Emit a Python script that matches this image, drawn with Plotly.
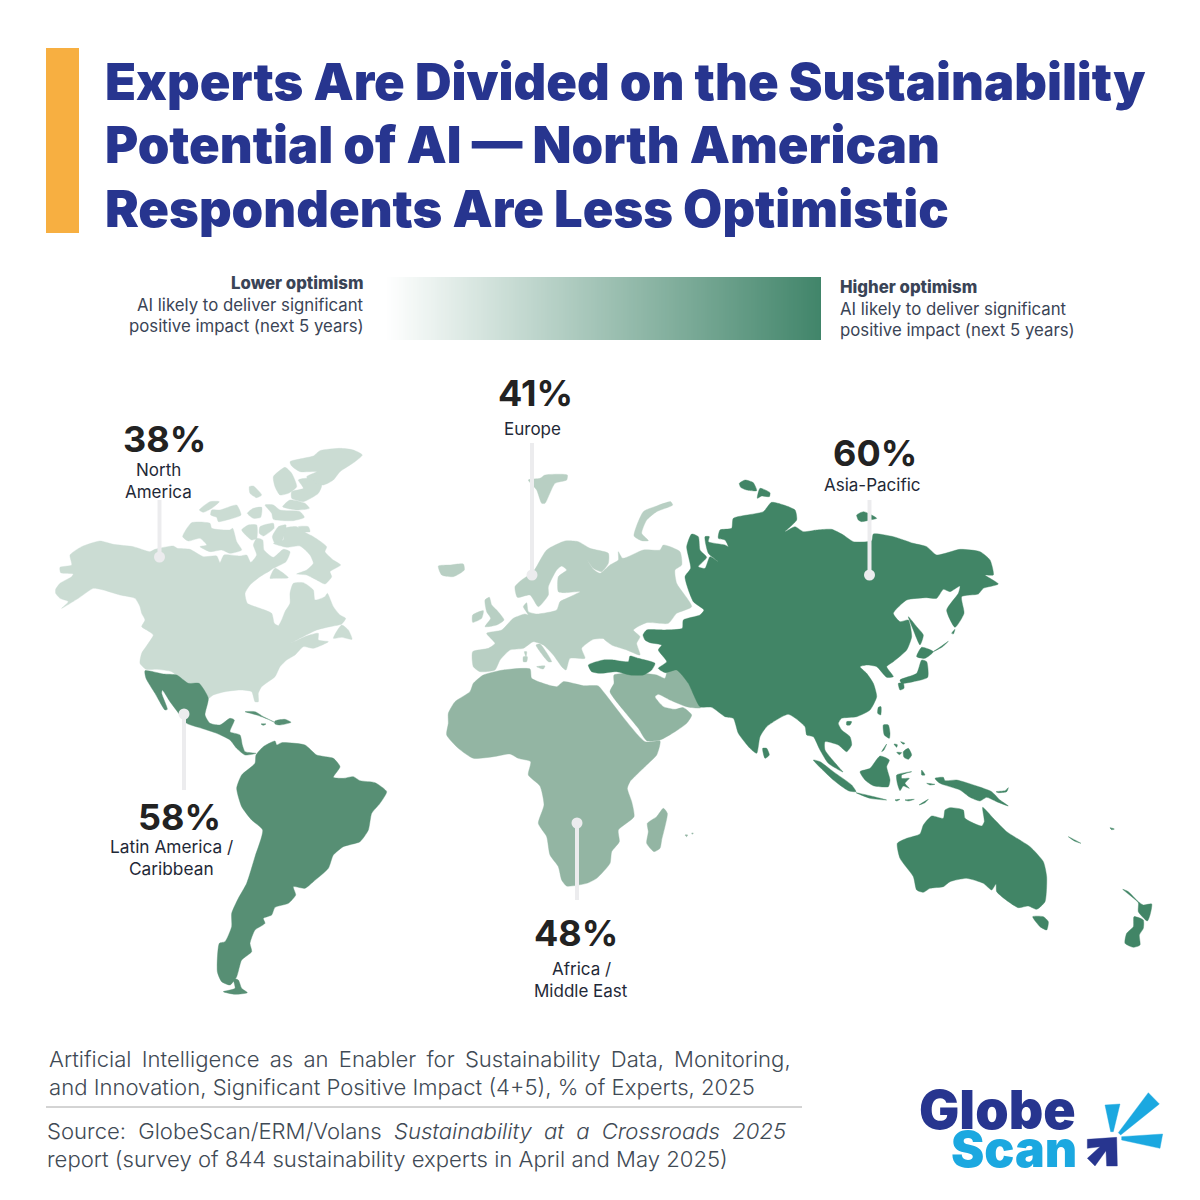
import plotly.graph_objects as go

# ---------- data ----------
regions = ["North America", "Europe", "Africa / Middle East", "Latin America / Caribbean", "Asia-Pacific"]
optimism = [38, 41, 48, 58, 60]
region_fill = ["#cbdcd3", "#b8cfc3", "#93b5a3", "#578f74", "#418566"]
title_lines = ["Experts Are Divided on the Sustainability",
               "Potential of AI \u2014 North American",
               "Respondents Are Less Optimistic"]

# Outlines: (crop left, crop top), 3x crop pixels
NA_CROP = (40, 430)
na_main = [(47,478),(60,460),(95,440),(100,432),(62,428),(60,412),(95,405),(90,375),(125,350),(180,333),(220,343),(280,350),(330,365),(345,358),(400,348),(412,355),(450,358),(490,380),(530,378),(540,398),(552,375),(600,378),(620,375),(632,397),(650,375),(640,345),(650,325),(668,330),(672,360),(700,382),(730,358),(750,365),(738,395),(700,415),(690,422),(660,440),(630,465),(615,490),(622,520),(660,535),(695,550),(703,580),(715,587),(725,570),(735,545),(750,520),(750,490),(760,460),(790,458),(820,480),(825,510),(855,500),(862,490),(880,530),(900,555),(917,565),(905,582),(870,590),(830,600),(752,640),(800,618),(835,610),(835,630),(865,635),(820,655),(790,650),(765,675),(740,690),(720,710),(705,740),(665,770),(655,790),(655,815),(645,815),(635,785),(600,780),(555,785),(520,795),(505,805),(490,785),(480,770),(445,765),(420,745),(395,725),(350,718),(318,718),(300,700),(305,670),(325,640),(340,615),(320,600),(305,590),(315,570),(305,550),(300,530),(285,505),(240,495),(190,480),(160,475),(115,505),(65,535),(85,515),(60,505),(47,490)]
na_islands = [
 [(750,95),(790,85),(820,78),(840,62),(900,55),(940,60),(967,75),(945,95),(900,125),(880,150),(850,165),(810,155),(800,140),(830,125),(780,125),(755,108)],
 [(700,140),(735,112),(755,130),(770,170),(745,190),(720,195),(705,170)],
 [(775,150),(800,145),(845,165),(835,190),(790,215),(755,205),(755,185),(790,175)],
 [(628,170),(640,168),(665,195),(650,203),(630,190)],
 [(728,230),(750,210),(795,220),(808,235),(770,240)],
 [(675,225),(700,225),(720,240),(780,245),(793,262),(760,272),(700,268),(695,250)],
 [(478,240),(510,215),(538,215),(515,235),(490,247)],
 [(515,240),(540,240),(575,228),(590,225),(603,255),(560,270),(535,275),(530,262),(512,255)],
 [(622,250),(640,235),(665,232),(662,262),(640,265)],
 [(428,320),(455,278),(510,280),(515,295),(570,300),(578,295),(590,335),(605,360),(570,370),(545,360),(510,365),(480,350),(500,345),(480,325),(445,333)],
 [(605,300),(625,285),(650,285),(650,325),(635,330)],
 [(660,290),(700,280),(702,295),(670,318),(658,310)],
 [(697,320),(715,290),(738,285),(725,335),(705,340)],
 [(700,340),(730,330),(735,295),(770,290),(800,310),(820,320),(860,350),(855,365),(880,390),(902,405),(870,425),(875,440),(855,462),(830,450),(800,435),(770,432),(800,420),(820,400),(810,375),(780,348),(740,352)],
 [(775,290),(805,290),(810,305),(790,305)],
 [(690,445),(705,415),(745,443),(705,445)],
 [(880,625),(905,585),(925,600),(936,628),(905,622)],
]

LA_CROP = (130, 660)
la_central = [(45,32),(100,42),(140,45),(175,70),(207,70),(235,115),(225,165),(240,190),(270,195),(300,175),(313,180),(300,215),(330,225),(337,255),(345,275),(378,280),(345,285),(320,265),(300,240),(260,220),(215,205),(170,190),(150,165),(120,125),(97,90),(95,100),(112,148),(105,150),(75,100),(48,55)]
la_south = [(378,285),(400,260),(435,243),(440,255),(455,248),(525,255),(560,285),(610,295),(630,320),(610,352),(640,355),(670,350),(690,362),(735,368),(770,395),(750,430),(725,460),(715,510),(690,545),(640,560),(610,585),(595,625),(550,665),(525,685),(490,680),(497,705),(475,730),(435,742),(425,765),(400,775),(405,790),(375,810),(360,850),(365,875),(335,900),(320,950),(300,975),(275,965),(262,935),(268,850),(285,845),(305,800),(305,760),(325,715),(350,670),(375,590),(398,510),(365,480),(335,440),(320,385),(335,345),(375,310)]
la_islands = [
 [(280,995),(315,985),(310,955),(325,960),(335,985),(352,998),(315,1003)],
 [(345,155),(375,155),(400,170),(440,190),(415,178),(380,165)],
 [(435,183),(465,178),(483,187),(450,195),(435,192)],
 [(393,192),(408,192),(400,196)],
]

EU_CROP = (430, 470)
eu_main = [(128,545),(175,535),(195,520),(170,490),(215,480),(250,445),(285,432),(295,435),(280,410),(290,398),(295,425),(320,432),(380,420),(390,395),(410,385),(450,365),(405,368),(385,365),(385,320),(410,300),(395,288),(380,300),(355,350),(355,375),(325,410),(300,375),(262,382),(255,350),(275,330),(310,305),(350,240),(405,213),(445,215),(480,235),(535,250),(535,280),(515,305),(490,295),(472,270),(490,298),(510,310),(540,285),(565,270),(565,245),(578,265),(640,240),(690,240),(700,225),(750,245),(755,285),(735,300),(740,340),(785,410),(740,430),(715,460),(650,458),(610,480),(630,500),(620,520),(630,555),(590,540),(545,525),(520,505),(540,505),(490,508),(455,535),(465,565),(420,565),(408,600),(395,590),(370,555),(340,525),(310,515),(280,535),(240,540),(210,570),(195,600),(150,605),(130,590)]
eu_islands = [
 [(318,525),(330,522),(365,575),(355,575)],
 [(25,288),(60,285),(100,282),(103,300),(70,320),(35,315)],
 [(165,390),(178,382),(185,405),(200,420),(222,450),(200,465),(165,470),(182,445),(170,425)],
 [(128,435),(160,422),(155,445),(128,457)],
 [(295,30),(330,25),(345,15),(412,15),(410,30),(375,40),(345,100),(335,100),(320,60)],
 [(612,198),(640,125),(680,108),(722,95),(728,105),(680,125),(650,150),(635,190),(655,212),(635,212)],
 [(320,590),(345,588),(340,597)],
 [(283,545),(290,545),(288,560)],
 [(280,560),(292,560),(290,575),(280,575)],
]

AF_CROP = (430, 660)
af_main = [(55,160),(75,125),(120,95),(130,70),(160,45),(220,30),(300,27),(305,55),(380,80),(400,65),(460,77),(505,78),(520,95),(645,245),(690,243),(680,285),(650,315),(600,365),(592,385),(605,425),(612,470),(565,510),(568,545),(545,575),(540,610),(500,655),(470,670),(410,678),(395,660),(385,620),(360,585),(350,530),(325,490),(342,435),(330,378),(295,345),(302,305),(265,295),(240,282),(190,290),(130,295),(85,265),(50,225),(55,190)]
af_mideast = [(552,45),(590,40),(640,40),(680,45),(705,55),(715,25),(750,30),(790,90),(812,143),(770,140),(720,120),(685,103),(675,110),(700,140),(735,148),(760,143),(785,165),(770,190),(735,215),(690,240),(650,242),(625,205),(580,150),(540,95),(552,70)]
af_islands = [[(652,490),(680,470),(700,445),(712,460),(695,540),(690,565),(672,575),(650,550),(655,515)],
              [(765,525),(773,525),(770,530)],[(785,519),(790,519),(787,523)]]

AS_CROP = (650, 470)
as_main = [(-21,495),(-10,480),(45,480),(97,475),(100,450),(150,435),(162,420),(130,395),(105,320),(122,295),(110,230),(125,192),(145,200),(150,240),(170,262),(145,290),(165,295),(180,260),(205,275),(175,250),(165,200),(178,200),(175,215),(225,225),(235,230),(225,210),(205,205),(210,180),(245,175),(250,145),(340,125),(365,97),(435,120),(440,150),(405,185),(435,170),(460,185),(500,180),(545,178),(580,195),(610,215),(665,212),(670,192),(730,200),(790,220),(830,230),(860,255),(930,238),(990,245),(1020,270),(1030,315),(1005,315),(1045,342),(1000,355),(985,372),(935,380),(942,430),(915,472),(890,420),(925,370),(930,348),(900,365),(880,358),(860,385),(830,383),(770,390),(730,430),(750,455),(775,450),(785,500),(770,540),(730,575),(710,590),(730,620),(710,622),(680,590),(650,585),(630,590),(650,610),(670,640),(680,680),(660,720),(620,740),(575,745),(565,760),(575,780),(600,800),(605,825),(590,845),(565,825),(525,815),(525,840),(565,890),(579,906),(535,880),(510,840),(490,800),(470,795),(465,770),(415,733),(350,770),(330,800),(320,850),(300,835),(265,790),(250,745),(225,740),(185,712),(150,710),(115,640),(80,600),(45,608),(25,595),(50,575),(25,540),(35,525),(0,518),(-15,510)]
as_islands = [
 [(338,835),(350,835),(358,855),(345,865)],
 [(268,40),(285,30),(310,38),(320,62),(290,60),(272,52)],
 [(322,85),(330,55),(360,68),(358,80),(335,78)],
 [(620,135),(640,125),(655,130),(680,145),(660,150),(635,155),(625,150)],
 [(775,440),(800,470),(820,495),(810,525),(790,480)],
 [(800,560),(815,532),(850,545),(825,565)],
 [(750,630),(800,610),(815,570),(830,575),(833,622),(790,635),(755,640)],
 [(745,640),(760,640),(762,655),(750,660)],
 [(685,712),(693,710),(692,735),(683,730)],
 [(590,755),(605,755),(600,765),(590,765)],
 [(700,765),(715,765),(720,790),(718,805),(703,795)],
 [(850,545),(875,528),(895,514),(878,530)],
 [(905,490),(915,478),(910,492)],
]
# Turkey is part of the 60% group, taken from the Europe crop
as_turkey = [(475,585),(520,570),(550,570),(595,575),(600,558),(625,565),(675,580),(665,600),(640,615),(600,615),(560,605),(510,610),(485,605)]

OC_CROP = (780, 720)
oc_islands = [
 [(100,120),(120,125),(160,155),(215,195),(228,215),(205,212),(160,180)],
 [(228,218),(260,225),(320,240),(270,235)],
 [(240,155),(270,145),(300,108),(328,120),(320,140),(330,180),(325,200),(280,197),(255,180)],
 [(350,165),(395,155),(365,165),(365,175),(388,175),(375,190),(388,205),(370,198),(360,212),(352,190)],
 [(370,95),(385,85),(395,105),(385,118),(372,112)],
 [(465,175),(490,172),(495,182),(530,180),(590,198),(635,215),(660,240),(685,258),(650,245),(620,232),(600,243),(570,232),(540,210),(480,190)],
 [(648,215),(675,212),(685,203),(680,215),(655,218)],
 [(417,255),(445,238),(435,248)],
 [(345,240),(360,238),(350,243)],
 [(375,240),(403,238),(385,243)],
 [(305,95),(320,72),(312,90)],
 [(342,72),(352,74),(350,82)],
 [(350,97),(365,98),(358,104)],
 [(362,65),(375,70),(370,73)],
 [(425,150),(435,165),(425,165)],
 [(440,190),(465,193),(450,195)],
 [(352,370),(380,355),(420,342),(430,315),(455,288),(490,295),(495,270),(510,263),(550,270),(555,295),(605,318),(613,305),(608,262),(640,295),(680,335),(750,380),(790,425),(800,470),(795,545),(770,568),(745,558),(715,563),(685,545),(650,515),(648,492),(635,510),(610,490),(560,475),(510,485),(490,500),(450,505),(430,517),(410,510),(400,470),(360,415)],
 [(758,590),(790,590),(805,605),(800,630),(780,620)],
 [(1028,508),(1045,515),(1075,545),(1090,555),(1115,552),(1110,585),(1102,603),(1075,575),(1075,548),(1055,530)],
 [(1062,590),(1090,600),(1090,625),(1078,645),(1080,675),(1060,682),(1035,670),(1040,640),(1060,620)],
 [(865,350),(903,370),(885,364)],
 [(990,323),(1003,327),(995,329)],
]

# Logo outlines
LOGO_CROP = (900, 1080)
logo_dark = [[(562,178),(650,172),(652,258),(620,258),(618,212),(585,258),(562,235),(600,200),(562,205)]]
logo_light = [[(615,75),(660,72),(640,155),(632,155)],
              [(745,38),(778,72),(662,165),(655,158)],
              [(665,170),(788,162),(780,205),(665,180)]]

# Leader pins: region, x, far end y, dot end y
pin_x = [159.5, 532, 577, 184, 869.5]
pin_from = [500, 443, 900, 790, 500]
pin_to = [557, 575, 823, 714, 575]

gradient_x = list(range(385, 823, 2))
gradient_y = [277, 340]
gradient_z = [list(range(len(gradient_x) - 1))]

# ---------- build ----------
def flatten(crop, polys):
    xs, ys = [], []
    for poly in polys:
        pts = list(poly) + [poly[0]]
        xs += [crop[0] + p[0] / 3 for p in pts] + [None]
        ys += [crop[1] + p[1] / 3 for p in pts] + [None]
    return xs, ys

def area(fig, crop, polys, color, name, spline=True):
    xs, ys = flatten(crop, polys)
    fig.add_trace(go.Scatter(x=xs, y=ys, mode="lines", fill="toself", fillcolor=color, name=name,
                             line=dict(color=color, width=0.4, shape="spline" if spline else "linear", smoothing=0.55),
                             hoverinfo="name", showlegend=False))

fig = go.Figure()
c = dict(zip(regions, region_fill))
area(fig, NA_CROP, [na_main] + na_islands, c["North America"], "North America")
area(fig, EU_CROP, [eu_main] + eu_islands, c["Europe"], "Europe")
area(fig, AF_CROP, [af_main] + af_islands, c["Africa / Middle East"], "Africa")
area(fig, AF_CROP, [af_mideast], "#90b4a1", "Middle East")
area(fig, LA_CROP, [la_central, la_south] + la_islands, c["Latin America / Caribbean"], "Latin America / Caribbean")
area(fig, AS_CROP, [as_main] + as_islands, c["Asia-Pacific"], "Asia-Pacific")
area(fig, EU_CROP, [as_turkey], c["Asia-Pacific"], "Turkey")
area(fig, OC_CROP, oc_islands, c["Asia-Pacific"], "Oceania")
area(fig, LOGO_CROP, logo_dark, "#27358f", "logo", spline=False)
area(fig, LOGO_CROP, logo_light, "#1ba8e0", "logo", spline=False)

for i, r in enumerate(regions):
    fig.add_trace(go.Scatter(x=[pin_x[i], pin_x[i]], y=[pin_from[i], pin_to[i]], mode="lines",
                             line=dict(color="#ececee", width=4), hoverinfo="skip", showlegend=False))
    fig.add_trace(go.Scatter(x=[pin_x[i]], y=[pin_to[i]], mode="markers",
                             marker=dict(color="#ececee", size=11), hoverinfo="skip", showlegend=False))

fig.add_trace(go.Heatmap(x=gradient_x, y=gradient_y, z=gradient_z, showscale=False,
                         colorscale=[[0, "#ffffff"], [1, "#41856a"]], hoverinfo="skip"))

def text(x, y, s, size, color, family="Inter", weight=400, anchor="center"):
    dx = {"left": -2, "right": 2, "center": 0}[anchor]
    fig.add_annotation(x=x + dx, y=y - 0.5, xref="x", yref="y", text=s, showarrow=False, xanchor=anchor, yanchor="middle",
                       font=dict(family=family, size=size, color=color, weight=weight))

NAVY = "#27358f"
for line, y in zip(title_lines, [82, 145, 209]):
    text(105, y, line, 50.7, NAVY, weight=900, anchor="left")

LG = "#3a4456"
text(364, 283, "Lower optimism", 16.8, LG, weight=800, anchor="right")
text(364, 305, "AI likely to deliver significant", 16.8, LG, anchor="right")
text(364, 326, "positive impact (next 5 years)", 16.8, LG, anchor="right")
text(840, 287, "Higher optimism", 16.8, LG, weight=800, anchor="left")
text(840, 309, "AI likely to deliver significant", 16.8, LG, anchor="left")
text(840, 330, "positive impact (next 5 years)", 16.8, LG, anchor="left")

pct_pos = [(164, 439), (535, 393), (576, 933), (179, 817), (875, 453)]
for v, (x, y) in zip(optimism, pct_pos):
    text(x, y, f"{v}%", 36, "#222222", weight=700)

DK = "#1f2937"
text(158, 470, "North", 17, DK)
text(158, 492, "America", 17, DK)
text(532, 429, "Europe", 17, DK)
text(872, 485, "Asia-Pacific", 17, DK)
text(171, 847, "Latin America /", 17.3, DK)
text(171, 869, "Caribbean", 17.3, DK)
text(581, 969, "Africa /", 17, DK)
text(581, 991, "Middle East", 17, DK)

F = "#3f4a55"
FS = 22.1
text(49, 1059, "Artificial Intelligence as an Enabler for Sustainability Data, Monitoring,".replace(" ", " \u2009"), FS, F, weight=300, anchor="left")
text(49, 1087, "and Innovation, Significant Positive Impact (4+5), % of Experts, 2025", FS, F, weight=300, anchor="left")
text(47, 1131, "Source: GlobeScan/ERM/Volans <i>Sustainability at a Crossroads 2025</i>".replace(" ", " \u2009\u200a"), FS, F, weight=300, anchor="left")
text(47, 1159, "report (survey of 844 sustainability experts in April and May 2025)", FS, F, weight=300, anchor="left")

text(919, 1110, "Globe", 53.5, NAVY, weight=900, anchor="left")
text(951, 1149, "Scan", 50, "#1ba8e0", weight=900, anchor="left")

fig.add_shape(type="rect", x0=46, x1=79, y0=48, y1=233, xref="x", yref="y", fillcolor="#f7af41", line_width=0)
fig.add_shape(type="line", x0=46, x1=802, y0=1107, y1=1107, xref="x", yref="y", line=dict(color="#a8a8a8", width=1))

fig.update_layout(width=1200, height=1200, margin=dict(l=0, r=0, t=0, b=0), paper_bgcolor="white", plot_bgcolor="white",
                  xaxis=dict(range=[0, 1200], visible=False, fixedrange=True),
                  yaxis=dict(range=[1200, 0], visible=False, fixedrange=True), showlegend=False)
fig.write_html("out.html", post_script="document.body.style.margin='0';", config={"displayModeBar": False})
